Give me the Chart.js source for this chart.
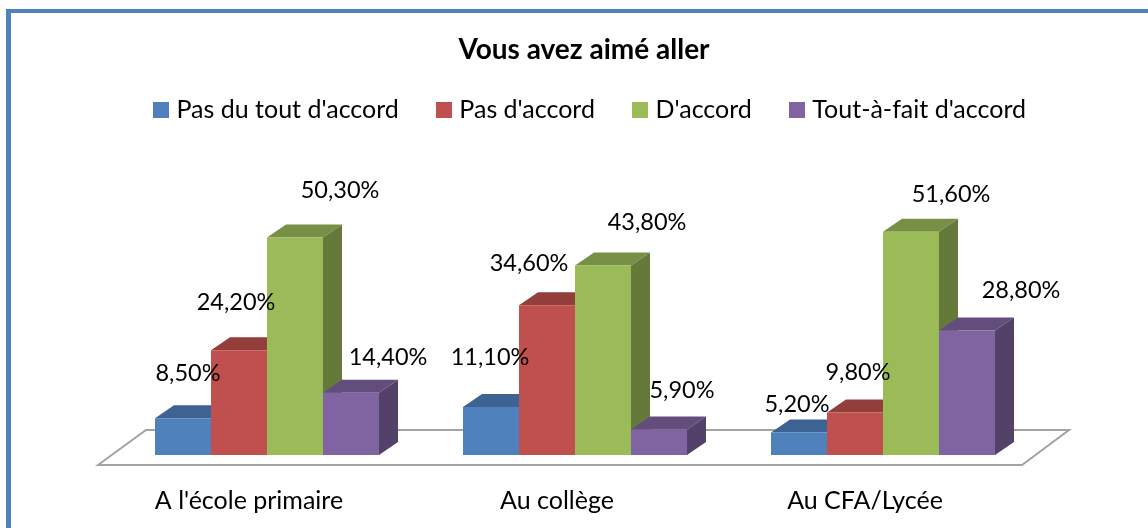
<!DOCTYPE html>
<html><head><meta charset="utf-8">
<style>
html,body{margin:0;padding:0;background:#fff;width:1148px;height:528px;overflow:hidden}
#frame{position:absolute;left:6px;top:9px;width:1142px;height:519px;box-sizing:border-box;border-left:5px solid #4F81BD;border-top:4px solid #4F81BD}
#wrap{position:absolute;left:0;top:0;width:1148px;height:528px}
</style>
<script src="https://cdn.jsdelivr.net/npm/chart.js@4"></script>
</head><body>
<div id="frame"></div>
<div id="wrap"><canvas id="c" width="1148" height="528"></canvas></div>
<script>
const categories = ["A l'école primaire", "Au collège", "Au CFA/Lycée"];
const seriesNames = ["Pas du tout d'accord", "Pas d'accord", "D'accord", "Tout-à-fait d'accord"];
const pasDuTout = [8.5, 11.1, 5.2];
const pasDaccord = [24.2, 34.6, 9.8];
const daccord = [50.3, 43.8, 51.6];
const toutAFait = [14.4, 5.9, 28.8];
const colors = ["#4F81BD", "#C0504D", "#9BBB59", "#8064A2"];
const chartTitle = "Vous avez aimé aller";
// label placement relative to the bar's top centre (dx, dy), per series then category
const labelShift = [
  [[5,-45],[-1,-50],[-2,-28]],
  [[-3,-48],[-18,-42],[3,-40]],
  [[45,-47],[44,-43],[40,-37]],
  [[37,-35],[23,-39],[54,-40]]
];
const FONT = "Lato, sans-serif";
const DX = 19, DY = 13;

function shade(hex, f){
  const n = parseInt(hex.slice(1),16);
  return `rgb(${Math.round((n>>16)*f)},${Math.round(((n>>8)&255)*f)},${Math.round((n&255)*f)})`;
}
function poly(ctx, pts, fill){
  ctx.beginPath();
  pts.forEach((p,i)=> i?ctx.lineTo(p[0],p[1]):ctx.moveTo(p[0],p[1]));
  ctx.closePath(); ctx.fillStyle = fill; ctx.fill();
}
const swatches = colors.map(col=>{
  const cv = document.createElement('canvas'); cv.width = 16; cv.height = 16;
  const g = cv.getContext('2d'); g.fillStyle = col; g.fillRect(0,0,16,16);
  return cv;
});
const depth3d = {
  id:'depth3d',
  afterLayout(chart){
    chart.legend.left += 18.5; chart.legend.right += 18.5; chart.legend.top += 2;
    chart.titleBlock.left += 10; chart.titleBlock.right += 10;
  },
  beforeDatasetsDraw(chart){
    const ctx = chart.ctx, xs = chart.scales.x, ys = chart.scales.y, b = ys.getPixelForValue(0);
    ctx.save();
    ctx.beginPath();
    ctx.moveTo(xs.left-15,b+10); ctx.lineTo(xs.left+33,b-25);
    ctx.lineTo(xs.right+32,b-25); ctx.lineTo(xs.right-15,b+10); ctx.closePath();
    ctx.strokeStyle='#A3A3A3'; ctx.lineWidth=2; ctx.stroke();
    chart.data.datasets.forEach((ds,di)=>{
      chart.getDatasetMeta(di).data.forEach(bar=>{
        const l=bar.x-bar.width/2, r=bar.x+bar.width/2, t=bar.y, bs=bar.base;
        poly(ctx,[[l,t],[l+DX,t-DY],[r+DX,t-DY],[r,t]],shade(colors[di],0.77));
        poly(ctx,[[r,t],[r+DX,t-DY],[r+DX,bs-DY],[r,bs]],shade(colors[di],0.65));
      });
    });
    ctx.restore();
  },
  afterDatasetsDraw(chart){
    const ctx = chart.ctx;
    ctx.save();
    ctx.font = `23.5px ${FONT}`; ctx.fillStyle='#000'; ctx.textAlign='center'; ctx.textBaseline='middle';
    chart.data.datasets.forEach((ds,di)=>{
      chart.getDatasetMeta(di).data.forEach((bar,i)=>{
        const s = labelShift[di][i];
        ctx.fillText(ds.data[i].toFixed(2).replace('.',',')+'%', bar.x+s[0], bar.y+s[1]);
      });
    });
    ctx.restore();
  }
};
const yMax = 75;
const hiddenSide = (position, width) => ({
  position, display:true, min:0, max:yMax,
  grid:{display:false}, border:{display:false}, ticks:{display:false},
  afterFit(s){ s.width = width; }
});
new Chart(document.getElementById('c'),{
  type:'bar',
  data:{labels:categories,datasets:[pasDuTout,pasDaccord,daccord,toutAFait].map((d,i)=>({
    label:seriesNames[i],data:d,backgroundColor:colors[i],borderWidth:0,
    categoryPercentage:224/308,barPercentage:1}))},
  options:{
    responsive:false,animation:false,
    layout:{padding:{left:0,right:0,top:33,bottom:-11}},
    plugins:{
      tooltip:{enabled:false},
      title:{display:true,text:chartTitle,color:'#000',font:{family:FONT,size:28,weight:'bold'},padding:{top:0,bottom:-14}},
      legend:{position:'top',labels:{
        usePointStyle:true,pointStyleWidth:5,boxHeight:16,padding:43,color:'#000',font:{family:FONT,size:25},
        generateLabels:()=>seriesNames.map((text,i)=>({text,datasetIndex:i,fillStyle:colors[i],strokeStyle:colors[i],lineWidth:0,pointStyle:swatches[i],fontColor:'#000'}))
      }}
    },
    scales:{
      x:{grid:{display:false},border:{display:false},ticks:{color:'#000',padding:23,labelOffset:-18,maxRotation:0,font:{family:FONT,size:25}}},
      y:hiddenSide('left',113),
      yRight:hiddenSide('right',111)
    }
  },
  plugins:[depth3d]
});
</script>
</body></html>
